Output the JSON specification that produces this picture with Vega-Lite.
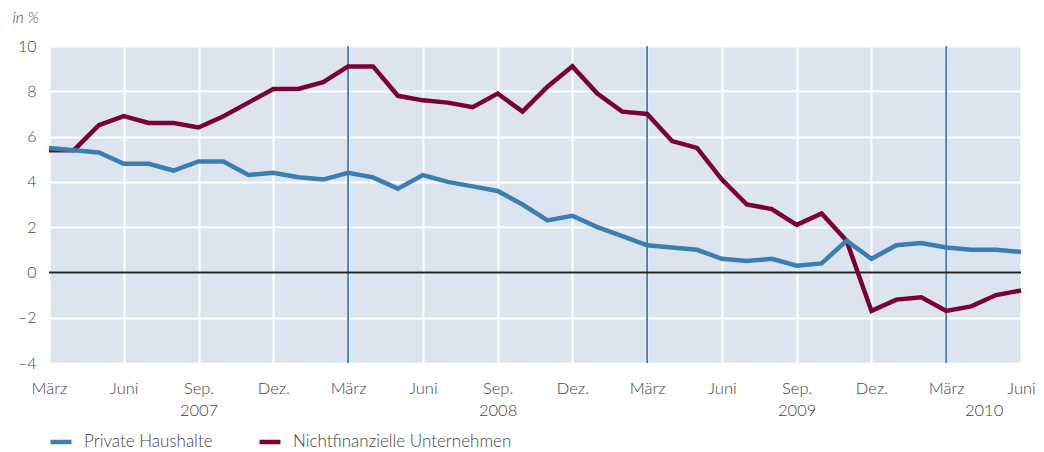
{
  "$schema": "https://vega.github.io/schema/vega-lite/v6.json",
  "width": 972,
  "height": 317,
  "autosize": "none",
  "padding": {"left": 49, "top": 46, "right": 23, "bottom": 89},
  "background": "white",
  "view": {"fill": "#dbe4ef", "stroke": null},
  "config": {"font": "Lato"},
  "datasets": {
    "series": [
      {"i": 0, "month": "2007-03", "ph": 5.5, "nfu": 5.4},
      {"i": 1, "month": "2007-04", "ph": 5.4, "nfu": 5.4},
      {"i": 2, "month": "2007-05", "ph": 5.3, "nfu": 6.5},
      {"i": 3, "month": "2007-06", "ph": 4.8, "nfu": 6.9},
      {"i": 4, "month": "2007-07", "ph": 4.8, "nfu": 6.6},
      {"i": 5, "month": "2007-08", "ph": 4.5, "nfu": 6.6},
      {"i": 6, "month": "2007-09", "ph": 4.9, "nfu": 6.4},
      {"i": 7, "month": "2007-10", "ph": 4.9, "nfu": 6.9},
      {"i": 8, "month": "2007-11", "ph": 4.3, "nfu": 7.5},
      {"i": 9, "month": "2007-12", "ph": 4.4, "nfu": 8.1},
      {"i": 10, "month": "2008-01", "ph": 4.2, "nfu": 8.1},
      {"i": 11, "month": "2008-02", "ph": 4.1, "nfu": 8.4},
      {"i": 12, "month": "2008-03", "ph": 4.4, "nfu": 9.1},
      {"i": 13, "month": "2008-04", "ph": 4.2, "nfu": 9.1},
      {"i": 14, "month": "2008-05", "ph": 3.7, "nfu": 7.8},
      {"i": 15, "month": "2008-06", "ph": 4.3, "nfu": 7.6},
      {"i": 16, "month": "2008-07", "ph": 4.0, "nfu": 7.5},
      {"i": 17, "month": "2008-08", "ph": 3.8, "nfu": 7.3},
      {"i": 18, "month": "2008-09", "ph": 3.6, "nfu": 7.9},
      {"i": 19, "month": "2008-10", "ph": 3.0, "nfu": 7.1},
      {"i": 20, "month": "2008-11", "ph": 2.3, "nfu": 8.2},
      {"i": 21, "month": "2008-12", "ph": 2.5, "nfu": 9.1},
      {"i": 22, "month": "2009-01", "ph": 2.0, "nfu": 7.9},
      {"i": 23, "month": "2009-02", "ph": 1.6, "nfu": 7.1},
      {"i": 24, "month": "2009-03", "ph": 1.2, "nfu": 7.0},
      {"i": 25, "month": "2009-04", "ph": 1.1, "nfu": 5.8},
      {"i": 26, "month": "2009-05", "ph": 1.0, "nfu": 5.5},
      {"i": 27, "month": "2009-06", "ph": 0.6, "nfu": 4.1},
      {"i": 28, "month": "2009-07", "ph": 0.5, "nfu": 3.0},
      {"i": 29, "month": "2009-08", "ph": 0.6, "nfu": 2.8},
      {"i": 30, "month": "2009-09", "ph": 0.3, "nfu": 2.1},
      {"i": 31, "month": "2009-10", "ph": 0.4, "nfu": 2.6},
      {"i": 32, "month": "2009-11", "ph": 1.4, "nfu": 1.4},
      {"i": 33, "month": "2009-12", "ph": 0.6, "nfu": -1.7},
      {"i": 34, "month": "2010-01", "ph": 1.2, "nfu": -1.2},
      {"i": 35, "month": "2010-02", "ph": 1.3, "nfu": -1.1},
      {"i": 36, "month": "2010-03", "ph": 1.1, "nfu": -1.7},
      {"i": 37, "month": "2010-04", "ph": 1.0, "nfu": -1.5},
      {"i": 38, "month": "2010-05", "ph": 1.0, "nfu": -1.0},
      {"i": 39, "month": "2010-06", "ph": 0.9, "nfu": -0.8}
    ],
    "marchLines": [{"i": 12}, {"i": 24}, {"i": 36}],
    "zero": [{"y": 0}]
  },
  "encoding": {
    "x": {
      "field": "i",
      "type": "quantitative",
      "scale": {"domain": [0, 39], "nice": false, "zero": false},
      "axis": {
        "title": null,
        "values": [0, 3, 6, 9, 12, 15, 18, 21, 24, 27, 30, 33, 36, 37.5, 39],
        "labelExpr": "datum.value == 37.5 ? ['', '2010'] : datum.value == 6 ? ['Sep.', '2007'] : datum.value == 18 ? ['Sep.', '2008'] : datum.value == 30 ? ['Sep.', '2009'] : (datum.value % 12 == 0 ? 'März' : datum.value % 12 == 3 ? 'Juni' : datum.value % 12 == 6 ? 'Sep.' : 'Dez.')",
        "labelOverlap": false,
        "labelFlush": false,
        "labelBound": false,
        "labelFontSize": 16.5,
        "labelFontWeight": 300,
        "labelColor": "#444444",
        "labelPadding": 17,
        "labelLineHeight": 22,
        "domain": false,
        "ticks": false,
        "grid": true,
        "gridColor": "white",
        "gridWidth": 2,
        "gridOpacity": {"condition": {"test": "datum.value == 37.5", "value": 0}, "value": 1}
      }
    }
  },
  "layer": [
    {
      "data": {"name": "marchLines"},
      "mark": {"type": "rule", "color": "#3a7fb1", "strokeWidth": 1.8},
      "encoding": {"x": {"field": "i", "type": "quantitative"}}
    },
    {
      "data": {"name": "zero"},
      "mark": {"type": "rule", "color": "#222222", "strokeWidth": 2},
      "encoding": {"y": {"field": "y", "type": "quantitative"}, "x": null}
    },
    {
      "data": {"name": "series"},
      "mark": {"type": "line", "strokeWidth": 4.5, "strokeJoin": "miter"},
      "encoding": {
        "y": {"field": "nfu", "type": "quantitative"},
        "color": {"datum": "Nichtfinanzielle Unternehmen"}
      }
    },
    {
      "data": {"name": "series"},
      "mark": {"type": "line", "strokeWidth": 4.5, "strokeJoin": "miter"},
      "encoding": {
        "y": {
          "field": "ph",
          "type": "quantitative",
          "scale": {"domain": [-4, 10], "nice": false},
          "axis": {
            "title": "in %",
            "titleAngle": 0,
            "titleAlign": "left",
            "titleBaseline": "middle",
            "titleX": -37,
            "titleY": -29,
            "titleFontStyle": "italic",
            "titleFontWeight": 300,
            "titleFontSize": 15.5,
            "titleColor": "#444444",
            "values": [-4, -2, 0, 2, 4, 6, 8, 10],
            "labelExpr": "datum.value < 0 ? '–' + abs(datum.value) : '' + datum.value",
            "labelFontSize": 16,
            "labelFontWeight": 300,
            "labelColor": "#444444",
            "labelPadding": 13,
            "domain": false,
            "ticks": false,
            "grid": true,
            "gridColor": "white",
            "gridWidth": 2
          }
        },
        "color": {
          "datum": "Private Haushalte",
          "scale": {
            "domain": ["Private Haushalte", "Nichtfinanzielle Unternehmen"],
            "range": ["#3a7fb1", "#7b0037"]
          },
          "legend": {
            "title": null,
            "orient": "none",
            "direction": "horizontal",
            "legendX": -1,
            "legendY": 383,
            "symbolType": "stroke",
            "symbolSize": 440,
            "symbolStrokeWidth": 4.5,
            "labelFontSize": 17,
            "labelFontWeight": 300,
            "labelLimit": 0,
            "labelColor": "#444444",
            "labelOffset": 10,
            "columnPadding": 37
          }
        }
      }
    }
  ]
}
